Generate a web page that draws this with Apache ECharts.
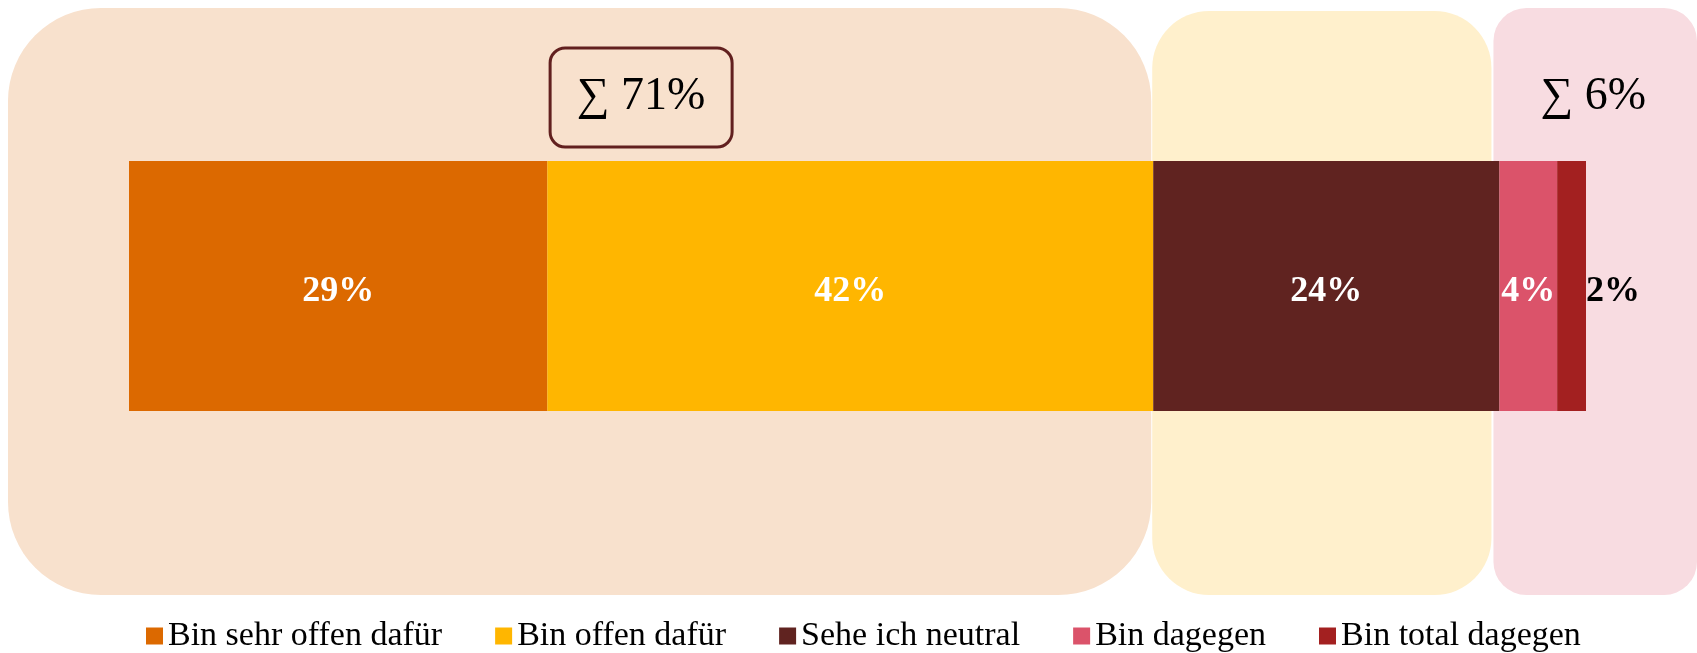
<!DOCTYPE html>
<html>
<head>
<meta charset="utf-8">
<script src="https://cdn.jsdelivr.net/npm/echarts@6/dist/echarts.min.js"></script>
<style>
  html, body { margin: 0; padding: 0; background: #fff; }
  #chart { width: 1697px; height: 653px; }
</style>
</head>
<body>
<div id="chart"></div>
<script>
const categories = ['Gesamt']
const seriesNames = ['Bin sehr offen dafür', 'Bin offen dafür', 'Sehe ich neutral', 'Bin dagegen', 'Bin total dagegen']
const values = [29, 42, 24, 4, 2]
const colors = ['#dc6900', '#ffb600', '#602320', '#db536a', '#a32020']

const font = "Georgia, 'Liberation Serif', serif"
const total = values.reduce((a, b) => a + b, 0)
const sumFor = values.slice(0, 2).reduce((a, b) => a + b, 0)
const sumAgainst = values.slice(3).reduce((a, b) => a + b, 0)

const chart = echarts.init(document.getElementById('chart'))

const series = seriesNames.map((name, i) => {
  const last = i === seriesNames.length - 1
  return {
    name,
    type: 'bar',
    stack: 'total',
    barWidth: '100%',
    data: [values[i]],
    itemStyle: { color: colors[i] },
    label: {
      show: true,
      position: last ? 'right' : 'inside',
      distance: last ? 0 : 5,
      offset: [0, 6],
      formatter: '{c}%',
      color: last ? '#000' : '#fff',
      fontFamily: font,
      fontWeight: 'bold',
      fontSize: 36
    }
  }
})

chart.setOption({
  animation: false,
  grid: { left: 129, right: 111, top: 161, height: 250 },
  xAxis: { type: 'value', min: 0, max: total, show: false },
  yAxis: { type: 'category', data: categories, show: false },
  legend: {
    data: seriesNames,
    left: 141,
    top: 614,
    icon: 'rect',
    itemWidth: 17,
    itemHeight: 17,
    itemGap: 53,
    itemStyle: { borderWidth: 0 },
    textStyle: { fontFamily: font, fontSize: 34, color: '#000' }
  },
  series
})

// background panels and sums, placed from the value axis
const px = (v) => chart.convertToPixel({ xAxisIndex: 0 }, v)
const W = chart.getWidth()
const xFor = px(sumFor)
const xNeutral = px(sumFor + values[2])

chart.setOption({
  graphic: [
    {
      type: 'rect', z: -1, silent: true,
      shape: { x: 8, y: 8, width: xFor - 2 - 8, height: 587, r: 93 },
      style: { fill: '#f8e1cd' }
    },
    {
      type: 'rect', z: -1, silent: true,
      shape: { x: xFor - 1, y: 11, width: xNeutral - 8 - (xFor - 1), height: 584, r: 57 },
      style: { fill: '#fff0cc' }
    },
    {
      type: 'rect', z: -1, silent: true,
      shape: { x: xNeutral - 6, y: 8, width: W - (xNeutral - 6), height: 587, r: 33 },
      style: { fill: '#f8dce1' }
    },
    {
      type: 'rect', z: 5, silent: true,
      shape: { x: (px(0) + xFor) / 2 - 91, y: 48, width: 182, height: 99, r: 15 },
      style: { fill: 'none', stroke: '#62201f', lineWidth: 3 }
    },
    {
      type: 'text', z: 6, silent: true,
      x: (px(0) + xFor) / 2, y: 97,
      style: {
        text: '∑ ' + sumFor + '%',
        fontFamily: font, fontSize: 46, fill: '#000',
        textAlign: 'center', textVerticalAlign: 'middle'
      }
    },
    {
      type: 'text', z: 6, silent: true,
      x: (xNeutral - 6 + W) / 2 - 2, y: 97,
      style: {
        text: '∑ ' + sumAgainst + '%',
        fontFamily: font, fontSize: 46, fill: '#000',
        textAlign: 'center', textVerticalAlign: 'middle'
      }
    }
  ]
})

window.addEventListener('resize', () => chart.resize())
</script>
</body>
</html>
